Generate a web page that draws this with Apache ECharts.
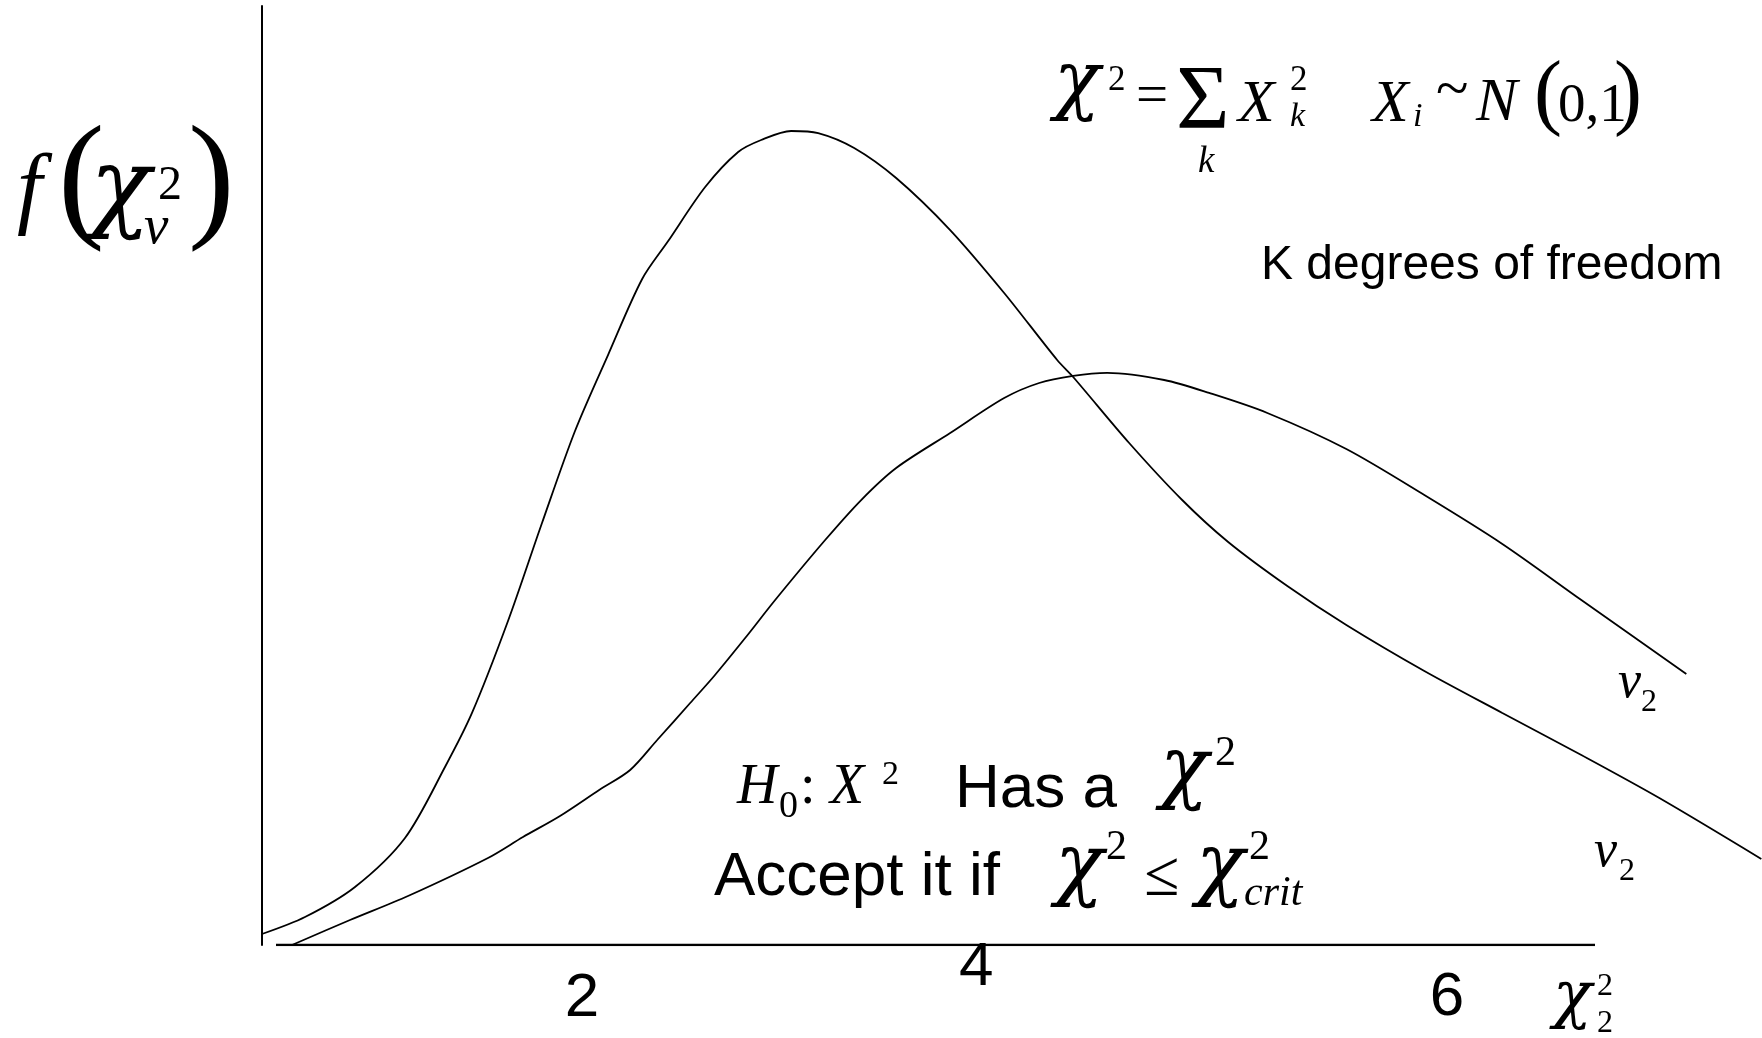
<!DOCTYPE html>
<html>
<head>
<meta charset="utf-8">
<title>chi-square</title>
<script src="https://cdn.jsdelivr.net/npm/echarts@6/dist/echarts.min.js"></script>
<style>
  html, body { margin: 0; padding: 0; background: #fff; }
  #chart { width: 1762px; height: 1038px; }
</style>
</head>
<body>
<div id="chart"></div>
<script>
// curve with the tall peak (long tail)
const curveA = [
  [0, 1.17], [0.258, 2.98], [0.558, 6.18], [0.858, 11.4], [1.098, 18.96],
  [1.26, 24.71], [1.476, 34.5], [1.68, 44.94], [1.878, 54.74], [2.076, 62.83],
  [2.281, 70.93], [2.437, 74.97], [2.659, 80.72], [2.857, 84.45], [2.995, 85.73],
  [3.175, 86.69], [3.337, 86.47], [3.553, 84.88], [3.805, 81.68], [4.129, 76.14],
  [4.453, 69.44], [4.771, 62.3], [4.867, 60.49], [5.203, 53.46], [5.521, 47.39],
  [5.797, 42.92], [6.152, 38.23], [6.506, 34.08], [6.974, 29.18], [7.442, 24.71],
  [7.916, 20.23], [8.384, 15.65], [8.996, 9.16]
];
// flatter curve
const curveB = [
  [0.18, 0], [0.528, 2.66], [0.876, 5.22], [1.356, 9.27], [1.566, 11.5],
  [1.788, 13.74], [2.023, 16.51], [2.209, 18.64], [2.371, 21.83], [2.569, 25.77],
  [2.713, 28.65], [2.899, 32.69], [3.079, 36.74], [3.379, 43.13], [3.595, 47.39],
  [3.805, 50.8], [4.129, 54.53], [4.453, 58.25], [4.663, 59.85], [4.867, 60.6],
  [5.071, 60.92], [5.413, 60.17], [5.683, 58.79], [6.032, 56.66], [6.506, 52.82],
  [6.974, 47.92], [7.442, 42.71], [7.916, 36.74], [8.546, 28.86]
];
// horizontal axis, drawn shorter than the plot area
const baseLine = [[0.084, 0], [7.998, 0]];
// hand placed tick labels under the axis
const tickLabels = ['2', '4', '6'];
const tickX = [1.92, 4.285, 7.11];
const tickY = [-5.75, -2.45, -5.64];

const serif = "'Liberation Serif','Times New Roman',serif";
const sans = "'Liberation Sans',Arial,sans-serif";
const greek = "'DejaVu Serif',serif";

// text piece, y given as baseline
function T(text, x, base, size, italic, family) {
    const fam = family || serif;
    const k = fam === sans ? 0.3465 : (fam === greek ? 0.346 : 0.3375);
    return {
        type: 'text',
        x: x,
        y: base - k * size,
        style: {
            text: text,
            fontSize: size,
            fontFamily: fam,
            fontStyle: italic ? 'italic' : 'normal',
            fill: '#000',
            verticalAlign: 'middle',
            align: 'left'
        }
    };
}

const texts = [
    // f(chi_v^2)
    T('f', 17, 224, 90, true),
    T('(', 58, 232, 140, false),
    T('χ', 90, 227, 100, true, greek),
    T('2', 158, 203, 48, false),
    T('v', 144, 247, 55, true),
    T(')', 188, 232, 140, false),
    // chi^2 = sum X_k^2   X_i ~ N(0,1)
    T('χ', 1054, 112, 76, true, greek),
    T('2', 1108, 93, 35, false),
    T('=', 1136, 117, 57, false),
    T('Σ', 1176, 135, 92, false),
    T('k', 1198, 175, 37, true),
    T('X', 1238, 125, 60, true),
    T('2', 1290, 93, 35, false),
    T('k', 1290, 129, 34, true),
    T('X', 1372, 125, 60, true),
    T('i', 1413, 129, 34, true),
    T('~', 1436, 112, 60, false),
    T('N', 1476, 125, 62, true),
    T('(', 1534, 125, 84, false),
    T('0,1', 1558, 125, 55, false),
    T(')', 1614, 125, 84, false),
    T('K degrees of freedom', 1261, 282, 48, false, sans),
    // H0 : X^2 Has a chi^2
    T('H', 737, 807, 56, true),
    T('0', 779, 820, 38, false),
    T(':', 800, 807, 56, false),
    T('X', 830, 807, 56, true),
    T('2', 882, 787, 34, false),
    T('Has a', 955, 811, 62, false, sans),
    T('χ', 1160, 800, 80, true, greek),
    T('2', 1215, 768, 42, false),
    // Accept it if chi^2 <= chi^2_crit
    T('Accept it if', 714, 899, 62, false, sans),
    T('χ', 1055, 897, 80, true, greek),
    T('2', 1106, 862, 42, false),
    T('≤', 1144, 900, 64, false),
    T('χ', 1196, 897, 80, true, greek),
    T('2', 1249, 862, 42, false),
    T('crit', 1244, 908, 42, true),
    // curve labels
    T('v', 1618, 701, 52, true),
    T('2', 1641, 713, 32, false),
    T('v', 1594, 870, 52, true),
    T('2', 1619, 882, 32, false),
    // axis name
    T('χ', 1553, 1022, 64, true, greek),
    T('2', 1597, 997, 32, false),
    T('2', 1597, 1034, 32, false)
];

const chart = echarts.init(document.getElementById('chart'));
const option = {
    animation: false,
    backgroundColor: '#fff',
    grid: {
        left: 262,
        top: 6,
        width: 1500,
        height: 939
    },
    xAxis: {
        type: 'value',
        min: 0,
        max: 9,
        axisLine: { show: false },
        axisTick: { show: false },
        axisLabel: { show: false },
        splitLine: { show: false }
    },
    yAxis: {
        type: 'value',
        min: 0,
        max: 100,
        axisLine: { show: true, lineStyle: { color: '#000', width: 2 } },
        axisTick: { show: false },
        axisLabel: { show: false },
        splitLine: { show: false }
    },
    series: [
        {
            type: 'line',
            data: baseLine,
            showSymbol: false,
            lineStyle: { color: '#000', width: 2.5 }
        },
        {
            type: 'line',
            data: curveA,
            smooth: 0.3,
            showSymbol: false,
            clip: false,
            lineStyle: { color: '#000', width: 1.8 }
        },
        {
            type: 'line',
            data: curveB,
            smooth: 0.3,
            showSymbol: false,
            clip: false,
            lineStyle: { color: '#000', width: 1.8 }
        },
        {
            type: 'scatter',
            clip: false,
            symbolSize: 0,
            itemStyle: { color: '#000', opacity: 1 },
            data: tickX.map((x, i) => ({ value: [x, tickY[i]], name: tickLabels[i] })),
            label: {
                show: true,
                position: [0, 0],
                align: 'center',
                verticalAlign: 'middle',
                formatter: p => p.name,
                fontFamily: sans,
                fontSize: 62,
                color: '#000',
                opacity: 1,
                textBorderWidth: 0
            }
        }
    ],
    graphic: texts
};
chart.setOption(option);
window.addEventListener('resize', () => {
    chart.resize();
});
</script>
</body>
</html>
